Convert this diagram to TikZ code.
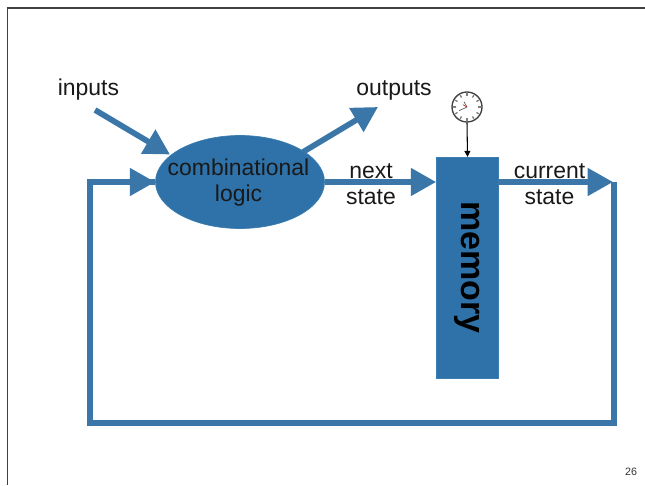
\documentclass[tikz,border=0pt]{standalone}
\usepackage{fontspec}
\usepackage{graphicx}
\setmainfont{Liberation Sans}
\usetikzlibrary{arrows.meta,shapes.geometric}
\definecolor{flow}{HTML}{3B76A8}
\definecolor{blockfill}{HTML}{2E72A9}
\definecolor{blockedge}{HTML}{3B7DAE}
\tikzset{
  flowline/.style={draw=flow,line width=4.3pt,line join=miter},
  flowarrow/.style={flowline,-{Triangle[length=19pt,width=20pt]}},
  label/.style={inner sep=0pt,font=\fontsize{17.2}{19.5}\selectfont,align=center,text=black!90},
  tick/.style={line width=1pt,black!50}
}
\begin{document}
\begin{tikzpicture}[x=0.75pt,y=-0.75pt]
\useasboundingbox (0,0) rectangle (645,485);
% slide frame
\coordinate (fb) at (7.5,485);
\coordinate (fc) at (7.5,8);
\coordinate (fr) at (645,8);
\draw[line width=0.9pt,black!75] (fb) -- (fc) -- (fr);
% blocks
\node[ellipse,fill=blockfill,draw=blockedge,line width=0.5pt,minimum width=126.75pt,minimum height=69.75pt,inner sep=0pt] (logic) at (240,182) {};
\node[label] (logictext) at (238.5,183) {combinational\\logic};
\node[rectangle,fill=blockfill,draw=blockedge,line width=0.5pt,minimum width=46.5pt,minimum height=165.5pt,inner sep=0pt] (mem) at (467.5,267.5) {\rotatebox{-90}{\fontsize{25.5}{28}\selectfont\bfseries memory}};
% clock
\node[circle,draw=black!75,fill=white,line width=1pt,minimum size=22.5pt,inner sep=0pt] (clock) at (467,107) {};
\foreach \a in {0,30,...,330}{
  \draw[tick] (clock.center) ++(\a:8.2pt) -- ++(\a:2pt);
}
\draw[line width=0.5pt,black!65] (clock.center) -- ++(205:6.5pt);
\draw[line width=0.5pt,black!65] (clock.center) -- ++(120:4.5pt);
\draw[line width=0.4pt,red!70!black] (clock.center) -- ++(150:3.5pt);
% signal labels
\node[label] (inputs) at (88.5,90) {inputs};
\node[label] (outputs) at (394,90) {outputs};
\node[label] (next) at (371,184) {next\\state};
\node[label] (current) at (549.5,184) {current\\state};
\node[inner sep=0pt,font=\fontsize{8}{10}\selectfont,text=black!80] (pagenum) at (631,472) {26};
% connectors
\coordinate (inS) at (95,110);
\coordinate (inE) at (170,154.5);
\coordinate (outS) at (303,152);
\coordinate (outE) at (378,107);
\coordinate (crn) at (613,182);
\coordinate (trc) at (614,182);
\coordinate (brc) at (614,423);
\coordinate (blc) at (90,423);
\coordinate (tlc) at (90,182);
\draw[flowarrow] (inS) -- (inE);
\draw[flowarrow] (outS) -- (outE);
\draw[flowarrow] (logic.east) -- (mem.west |- logic.east);
\draw[flowline] (trc) -- (brc) -- (blc) -- (tlc) -- (logic.west);
\draw[flowarrow] (mem.east |- crn) -- (crn);
\draw[flowarrow] (tlc) -- (logic.west);
\draw[black,line width=0.8pt,-{Triangle[length=4.5pt,width=4.5pt]}] (clock.south) -- (mem.north);
\end{tikzpicture}
\end{document}
